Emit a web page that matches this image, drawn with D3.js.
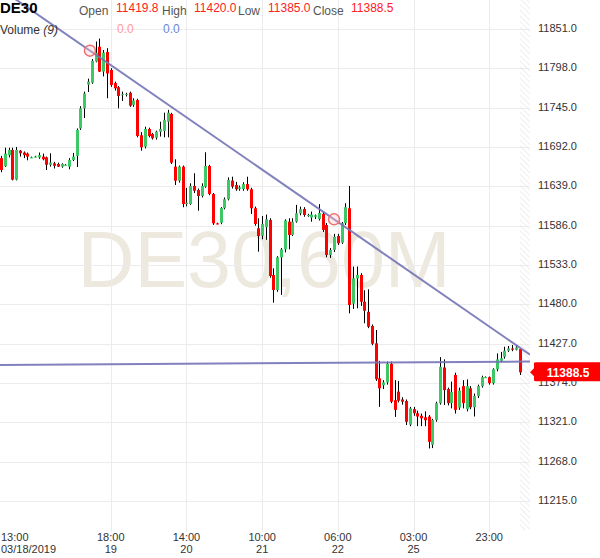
<!DOCTYPE html>
<html><head><meta charset="utf-8">
<script src="https://cdn.jsdelivr.net/npm/d3@7"></script>
<style>
html,body{margin:0;padding:0;background:#fff;}
svg{display:block;font-family:"Liberation Sans",Arial,sans-serif;}
</style></head>
<body>
<svg id="chart" width="600" height="558"></svg>
<script>
// ---- data (hourly candles DE30, starting 13:00 03/18/2019) ----
const opens = [11677,11666,11681,11688,11648,11687,11684.5,11683,11678,11679,11678,11679,11678,11668,11670,11669,11665.5,11668,11665.5,11674.5,
11680,11717,11744,11776,11778.6,11807,11827,11793.5,11820,11795.7,11778,11772.4,11762,11763,11765,11748.6,11755.3,11707.8,11692.4,11716.3,
11709.5,11704.5,11712.6,11713.6,11726,11736.5,11665.5,11646.6,11665.5,11615,11615.2,11639.5,11634,11626,11638.6,11666.4,11628.7,11589,11590,11609.7,
11621.6,11646.7,11640.8,11635.5,11635.5,11642,11635,11609.5,11582.5,11572.6,11584,11593.7,11519.6,11499.4,11543.4,11554.2,11591.4,11573.5,11591.4,11602.7,
11608.5,11600.4,11597,11598,11595,11601.8,11587,11546.6,11553.4,11572.1,11563.1,11589.3,11609.5,11481,11515,11519.6,11483.6,11470,11451,11427.6,
11380.5,11371,11375,11400,11351,11362.5,11352,11350,11318,11339,11333.5,11330,11328,11329,11291,11324.3,11347,11395,11366,11347,
11385,11341,11370,11339,11367,11341.5,11356.7,11370,11382,11382,11374,11392.6,11404,11409.5,11417.6,11420.6,11419,11419.8];
const highs = [11680,11691,11691,11691,11692,11688,11686,11684.5,11679,11680,11684.5,11683,11679,11683.5,11672,11671,11670,11669,11677,11684,
11717,11747,11766.5,11784,11810.5,11834,11838,11822.6,11825,11798,11780,11774,11766.5,11765,11766.5,11757.6,11757,11712,11719.3,11718,
11711,11714,11726,11738.2,11742,11738,11675.4,11667,11667,11637,11643,11656.6,11636,11643,11684.9,11668,11630,11590,11611,11624,
11651,11652,11645,11640,11644.5,11652,11637,11611.7,11596,11599,11601,11596,11528.6,11545,11556,11594.6,11596,11596,11614,11611.7,
11611,11602,11605,11601,11615,11604.5,11589.6,11556,11575,11575,11591,11616.2,11639.5,11531,11531,11522,11499,11500.4,11453,11445.5,
11404,11378,11403,11403,11378,11377,11355,11352,11342,11342,11337,11333,11336,11331,11326,11349,11409,11406,11368,11376,
11388,11368,11378,11379,11370,11360,11372,11384,11383,11383,11394,11414,11416,11423,11424,11425.3,11425.3,11420];
const lows = [11658,11665,11678,11647,11647,11679,11677,11674,11677,11678,11676,11674,11661,11665.5,11663,11665,11664,11667,11662,11673,
11665,11715,11731,11766,11777,11806,11793,11787,11757.6,11773,11768,11744,11754,11760,11746,11746,11705,11687,11690,11705,
11702,11702,11706,11705,11705,11669,11640.8,11644,11610.8,11612,11614,11630,11606.2,11624,11637,11627,11587,11588,11588,11608,
11620,11636,11633,11633,11633,11633,11601.8,11586,11551,11567.7,11567,11516,11482.3,11497,11492.8,11550,11554.2,11572,11590,11600,
11598,11598,11591.4,11595,11593,11577.6,11543.5,11542.6,11550.6,11560,11561.4,11587,11468,11474,11474.7,11478,11454.6,11448,11425,11377,
11342,11366,11372,11347,11328.5,11348,11345,11317.6,11316,11330,11316,11316,11316,11286,11286.5,11322,11345,11344.5,11344,11340,
11333,11338,11340,11336,11339,11329,11354,11368,11381,11372,11372,11390,11402,11407,11416,11417,11418,11385];
const closes = [11661,11683,11688,11648,11688,11683.5,11681,11679,11678,11679,11681,11675.5,11668,11671,11666.5,11665.5,11669,11668,11674.5,11679,
11715,11744,11764,11780,11808,11819,11793.5,11819,11791,11775.5,11771,11760.7,11763,11763.5,11747.6,11754.4,11706.8,11691.6,11716.3,11706.8,
11703.7,11712.6,11716.3,11728.4,11738.2,11670.9,11646.6,11665.5,11615.2,11617,11639.5,11633,11626,11639.5,11666.4,11628.7,11589.2,11588.3,11609.7,11621.6,
11647.6,11638.6,11635,11637.5,11642,11635,11609.5,11588.3,11572.1,11588.3,11594.6,11518.3,11499.4,11543.4,11554.2,11593,11573.5,11591.4,11602.7,11608.2,
11600.4,11600.4,11601,11600,11603,11580.3,11546.6,11553.4,11571.2,11562.3,11589.3,11610.8,11479.2,11515,11519.6,11483.6,11471.5,11450,11427,11379.2,
11367,11375,11400,11349,11338,11350.3,11349,11322,11340,11333.5,11329,11326.6,11324,11295,11324.3,11347,11396,11364.6,11347,11362,
11338,11364,11347,11370,11341.5,11356.7,11370,11382,11382,11374,11392.6,11406,11407.5,11417.6,11420.6,11419,11422,11388.5];

const priceTicks = [11215,11268,11321,11374,11427,11480,11533,11586,11639,11692,11745,11798,11851];
const timeTickIdx = [0,29,49,69,89,109,129];
const timeTickTime = ["13:00","18:00","14:00","10:00","06:00","03:00","23:00"];
const timeTickDate = ["03/18/2019","19","20","21","22","25",""];

// drawn trendline anchors (bar index, price) and horizontal line
const trendIdx = [23.5, 88];
const trendPrice = [11821.7, 11594.6];
const hlineIdx = [0, 137];
const hlinePrice = [11398.5, 11403];

const symbol = "DE30", period = "60M";
const ohlcLabels = ["Open","High","Low","Close"];
const lastOHLC = ["11419.8","11420.0","11385.0","11388.5"];
const lastClose = 11388.5;

// ---- layout ----
const svg = d3.select("#chart");
const plotRight = 530, hatchLeft = 520, plotBottom = 532;
const x = d3.scaleLinear().domain([0, 137]).range([1, 519.5]);
const y = d3.scaleLinear().domain([11215, 11851]).range([501.2, 28.9]);

// hatch pattern
const defs = svg.append("defs");
const pat = defs.append("pattern").attr("id","hatch").attr("patternUnits","userSpaceOnUse")
  .attr("width",4).attr("height",4).attr("patternTransform","rotate(-45)");
pat.append("line").attr("x1",0).attr("y1",0).attr("x2",0).attr("y2",4).attr("stroke","#e2e2e2").attr("stroke-width",1.2);
defs.append("clipPath").attr("id","plotclip").append("rect").attr("x",0).attr("y",0).attr("width",plotRight).attr("height",plotBottom);

// watermark
svg.append("text").attr("x",264).attr("y",287).attr("text-anchor","middle")
  .attr("font-size",79).attr("fill","#ede9df").text(symbol + "," + period);

// grid
const grid = svg.append("g");
grid.selectAll("line.h").data(priceTicks).join("line")
  .attr("x1",0).attr("x2",plotRight).attr("y1",d=>Math.round(y(d))+0.5).attr("y2",d=>Math.round(y(d))+0.5)
  .attr("stroke","#ececec").attr("stroke-width",1);
grid.selectAll("line.v").data(timeTickIdx.slice(1)).join("line")
  .attr("y1",0).attr("y2",plotBottom).attr("x1",d=>Math.round(x(d))+0.5).attr("x2",d=>Math.round(x(d))+0.5)
  .attr("stroke","#ececec").attr("stroke-width",1);

// hatch strip
svg.append("rect").attr("x",hatchLeft).attr("y",0).attr("width",plotRight-hatchLeft).attr("height",plotBottom-2)
  .attr("fill","url(#hatch)");

// candles
const bars = d3.range(opens.length).map(i=>({i,o:opens[i],h:highs[i],l:lows[i],c:closes[i]}));
const cg = svg.append("g").attr("clip-path","url(#plotclip)");
const g = cg.selectAll("g.c").data(bars).join("g");
g.append("line")
  .attr("x1",d=>Math.round(x(d.i))+0.5).attr("x2",d=>Math.round(x(d.i))+0.5)
  .attr("y1",d=>y(d.h)).attr("y2",d=>y(d.l)).attr("stroke","#000").attr("stroke-width",1);
g.append("rect")
  .attr("x",d=>Math.round(x(d.i))-1).attr("width",3)
  .attr("y",d=>y(Math.max(d.o,d.c)))
  .attr("height",d=>Math.max(1,Math.abs(y(d.o)-y(d.c))))
  .attr("fill",d=>d.c>=d.o?"#3cc864":"#ff0000");

// trend line (extended across the plot)
const slope = (trendPrice[1]-trendPrice[0])/(trendIdx[1]-trendIdx[0]);
const i0 = x.invert(0), i1 = x.invert(plotRight);
const lines = svg.append("g").attr("clip-path","url(#plotclip)");
lines.append("line")
  .attr("x1",x(i0)).attr("y1",y(trendPrice[0]+slope*(i0-trendIdx[0])))
  .attr("x2",x(i1)).attr("y2",y(trendPrice[0]+slope*(i1-trendIdx[0])))
  .attr("stroke","#7474b8").attr("stroke-width",2).attr("opacity",0.9);
const hs = (hlinePrice[1]-hlinePrice[0])/(hlineIdx[1]-hlineIdx[0]);
lines.append("line")
  .attr("x1",x(i0)).attr("y1",y(hlinePrice[0]+hs*(i0-hlineIdx[0])))
  .attr("x2",x(i1)).attr("y2",y(hlinePrice[0]+hs*(i1-hlineIdx[0])))
  .attr("stroke","#7474b8").attr("stroke-width",2).attr("opacity",0.9);
lines.selectAll("circle").data(trendIdx).join("circle")
  .attr("cx",(d)=>x(d)).attr("cy",(d,k)=>y(trendPrice[k])).attr("r",5.5)
  .attr("fill","rgba(255,200,200,0.35)").attr("stroke","#f07070").attr("stroke-width",1.5);

// price axis
svg.append("g").selectAll("text").data(priceTicks).join("text")
  .attr("x",538).attr("y",d=>y(d)+3).attr("font-size",11).attr("fill","#333")
  .text(d=>d3.format(".1f")(d));

// time axis
const ta = svg.append("g").attr("font-size",11).attr("fill","#333");
ta.selectAll("text.t").data(timeTickIdx).join("text")
  .attr("x",(d,k)=>k===0?1:x(d)).attr("y",541)
  .attr("text-anchor",(d,k)=>k===0?"start":"middle").text((d,k)=>timeTickTime[k]);
ta.selectAll("text.d").data(timeTickIdx).join("text").attr("class","d")
  .attr("x",(d,k)=>k===0?1:x(d)).attr("y",553)
  .attr("text-anchor",(d,k)=>k===0?"start":"middle").text((d,k)=>timeTickDate[k]);

// current price tag
const ty = y(lastClose);
svg.append("path")
  .attr("d",`M530,${ty} L534,${ty-4} L534,${ty-9} Q534,${ty-10} 536,${ty-10} L600,${ty-10} L600,${ty+9} L536,${ty+9} Q534,${ty+9} 534,${ty+8} L534,${ty+4} Z`)
  .attr("fill","#ff0000");
svg.append("text").attr("x",568).attr("y",ty+4.5).attr("text-anchor","middle")
  .attr("font-size",12).attr("font-weight","bold").attr("fill","#fff").text(d3.format(".1f")(lastClose));

// header
svg.append("text").attr("x",0).attr("y",13).attr("font-size",15).attr("font-weight","bold").attr("fill","#000").text(symbol);
const hx = [79,162,238,313], vx = [116,194,268,351];
ohlcLabels.forEach((lab,k)=>{
  svg.append("text").attr("x",hx[k]).attr("y",15).attr("font-size",12).attr("fill","#555").text(lab);
  svg.append("text").attr("x",vx[k]).attr("y",12).attr("font-size",12).attr("fill","#ff2020").text(lastOHLC[k]);
});
const vol = svg.append("text").attr("x",0).attr("y",34).attr("font-size",12).attr("fill","#333");
vol.append("tspan").text("Volume ");
vol.append("tspan").attr("font-style","italic").text("(9)");
svg.append("text").attr("x",117).attr("y",33).attr("font-size",12).attr("fill","#ff9999").text("0.0");
svg.append("text").attr("x",163).attr("y",33).attr("font-size",12).attr("fill","#6a86d8").text("0.0");
</script>
</body></html>
